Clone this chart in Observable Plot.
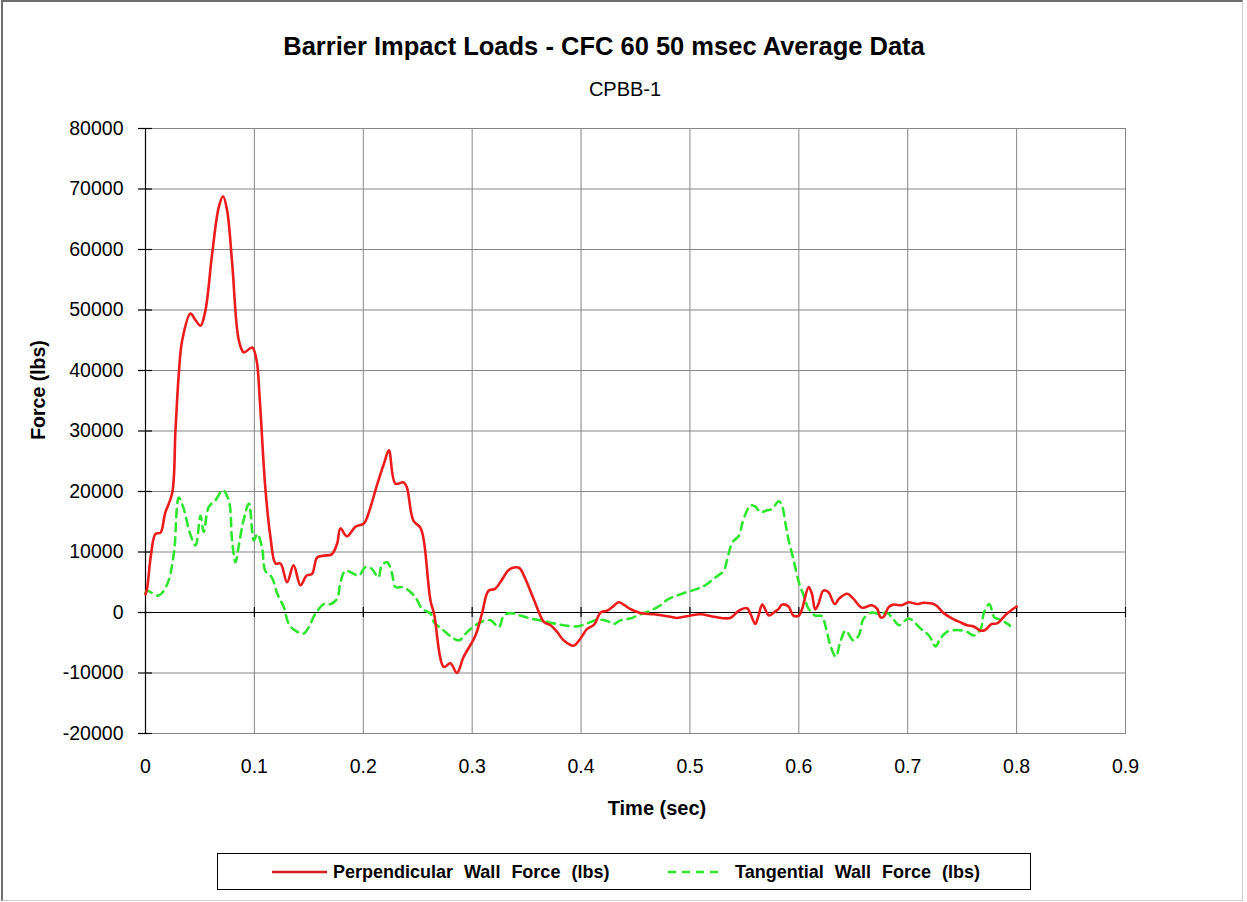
<!DOCTYPE html>
<html>
<head>
<meta charset="utf-8">
<script src="https://cdn.jsdelivr.net/npm/d3@7"></script>
<script src="https://cdn.jsdelivr.net/npm/@observablehq/plot@0.6"></script>
<style>
  body { margin: 0; background: #fff; }
  #wrap { position: relative; width: 1247px; height: 902px; background: #fff; overflow: hidden; font-family: "Liberation Sans", Arial, sans-serif; color: #000; }
  #wrap svg.plot { position: absolute; left: 0; top: 0; }
  .t { position: absolute; white-space: nowrap; }
</style>
</head>
<body>
<div id="wrap">
  <div style="position:absolute;left:1px;top:0px;width:1239px;height:898px;border-left:2px solid #6e6e6e;border-top:2px solid #6e6e6e;border-right:1px solid #d0d0d0;border-bottom:1px solid #d0d0d0;"></div>
  <div id="chart"></div>
  <div class="t" style="left:0;width:1208px;top:33px;line-height:26px;font-size:25.5px;font-weight:bold;text-align:center;">Barrier Impact Loads - CFC 60 50 msec Average Data</div>
  <div class="t" style="left:0;width:1250px;top:79px;line-height:20px;font-size:20px;text-align:center;">CPBB-1</div>
  <div class="t" style="left:-62px;width:200px;top:380px;line-height:20px;font-size:19.5px;font-weight:bold;text-align:center;transform:rotate(-90deg);">Force (lbs)</div>
  <div class="t" style="left:557px;width:200px;top:798px;line-height:20px;font-size:20px;font-weight:bold;text-align:center;">Time (sec)</div>
  <div style="position:absolute;left:217px;top:853px;width:812px;height:35px;border:1px solid #000;"></div>
  <svg style="position:absolute;left:0;top:0;" width="1247" height="902">
    <line x1="272" y1="872" x2="327" y2="872" stroke="#d42020" stroke-width="2.5"/>
    <line x1="668" y1="872" x2="722" y2="872" stroke="#2ee62e" stroke-width="2.5" stroke-dasharray="8,6"/>
  </svg>
  <div class="t" style="left:333px;top:862px;line-height:20px;font-size:18px;font-weight:bold;word-spacing:6px;">Perpendicular Wall Force (lbs)</div>
  <div class="t" style="left:735px;top:862px;line-height:20px;font-size:18px;font-weight:bold;word-spacing:6px;">Tangential Wall Force (lbs)</div>
</div>
<script>
// Tick values and labels
const xTicks = [0, 0.1, 0.2, 0.3, 0.4, 0.5, 0.6, 0.7, 0.8, 0.9];
const xTickLabels = ["0", "0.1", "0.2", "0.3", "0.4", "0.5", "0.6", "0.7", "0.8", "0.9"];
const yTicks = [-20000, -10000, 0, 10000, 20000, 30000, 40000, 50000, 60000, 70000, 80000];
const yTickLabels = ["-20000", "-10000", "0", "10000", "20000", "30000", "40000", "50000", "60000", "70000", "80000"];

// Perpendicular Wall Force (lbs)
const perpTime = [0, 0.0015, 0.005, 0.0092, 0.0138, 0.018, 0.0245, 0.0275, 0.0306, 0.0337, 0.0413, 0.046, 0.0505, 0.055, 0.0612, 0.0673, 0.0712, 0.075, 0.0796, 0.0857, 0.0903, 0.098, 0.102, 0.105, 0.110, 0.1148, 0.1194, 0.124, 0.130, 0.136, 0.1423, 0.148, 0.153, 0.1576, 0.164, 0.171, 0.176, 0.179, 0.185, 0.193, 0.2005, 0.205, 0.213, 0.219, 0.2235, 0.2295, 0.237, 0.240, 0.246, 0.2525, 0.2556, 0.2617, 0.265, 0.274, 0.280, 0.286, 0.292, 0.303, 0.309, 0.315, 0.321, 0.328, 0.334, 0.343, 0.3475, 0.357, 0.366, 0.372, 0.378, 0.384, 0.393, 0.3995, 0.4056, 0.412, 0.418, 0.424, 0.430, 0.4345, 0.445, 0.4545, 0.467, 0.482, 0.488, 0.5005, 0.5096, 0.522, 0.537, 0.545, 0.5525, 0.5555, 0.560, 0.563, 0.5665, 0.5725, 0.577, 0.5815, 0.5845, 0.5905, 0.595, 0.600, 0.603, 0.609, 0.612, 0.615, 0.618, 0.6225, 0.627, 0.633, 0.637, 0.6445, 0.650, 0.658, 0.667, 0.672, 0.675, 0.678, 0.6825, 0.687, 0.6945, 0.701, 0.7085, 0.7146, 0.725, 0.733, 0.741, 0.748, 0.7545, 0.7605, 0.767, 0.771, 0.777, 0.782, 0.791, 0.800];
const perpForce = [3000, 4000, 9500, 13000, 13200, 16400, 19700, 30000, 39500, 45000, 49400, 48300, 47400, 49900, 59300, 67000, 68800, 66400, 57700, 45000, 43000, 43800, 41700, 35000, 20700, 12400, 8100, 8100, 5000, 7800, 4500, 6100, 6400, 9100, 9400, 9600, 11400, 13900, 12600, 14200, 14700, 16500, 21300, 24600, 26800, 21300, 21500, 20700, 15200, 14000, 11900, 2000, -200, -9000, -8400, -10000, -7400, -3800, -200, 3600, 3900, 5600, 7100, 7400, 6100, 2000, -1600, -2100, -3200, -4600, -5500, -4300, -2700, -2000, 0, 300, 1100, 1700, 600, -100, -300, -700, -900, -500, -300, -700, -900, 300, 700, -200, -1900, -500, 1300, -500, 0, 600, 1300, 1000, -500, -500, 600, 4200, 3100, 500, 1400, 3600, 3400, 1400, 2300, 3100, 2300, 800, 1200, 600, -800, -700, 900, 1300, 1200, 1700, 1400, 1600, 1300, -100, -1000, -1600, -2100, -2300, -3000, -2900, -1900, -1800, -200, 1000];

// Tangential Wall Force (lbs)
const tangTime = [0, 0.0015, 0.012, 0.020, 0.026, 0.0306, 0.035, 0.041, 0.046, 0.0505, 0.0535, 0.058, 0.064, 0.0712, 0.0765, 0.0795, 0.0826, 0.0857, 0.090, 0.095, 0.0995, 0.1026, 0.107, 0.110, 0.116, 0.121, 0.127, 0.1316, 0.1377, 0.145, 0.150, 0.156, 0.164, 0.170, 0.176, 0.179, 0.1837, 0.191, 0.196, 0.202, 0.208, 0.211, 0.214, 0.217, 0.222, 0.2265, 0.2295, 0.2357, 0.242, 0.248, 0.254, 0.2617, 0.265, 0.274, 0.2816, 0.288, 0.2955, 0.303, 0.3107, 0.317, 0.3245, 0.329, 0.3352, 0.344, 0.3535, 0.3627, 0.375, 0.384, 0.3965, 0.4056, 0.4148, 0.424, 0.430, 0.436, 0.445, 0.4545, 0.4637, 0.473, 0.479, 0.488, 0.4974, 0.5066, 0.514, 0.5234, 0.531, 0.534, 0.539, 0.545, 0.548, 0.5525, 0.5555, 0.560, 0.5647, 0.571, 0.5754, 0.5815, 0.5845, 0.5877, 0.5907, 0.5953, 0.600, 0.6045, 0.609, 0.615, 0.621, 0.6255, 0.629, 0.634, 0.638, 0.643, 0.650, 0.655, 0.6595, 0.667, 0.673, 0.681, 0.6856, 0.692, 0.701, 0.712, 0.7195, 0.7255, 0.730, 0.736, 0.745, 0.7545, 0.7605, 0.767, 0.770, 0.775, 0.7795, 0.7856, 0.791, 0.794];
const tangForce = [3200, 3600, 2800, 4700, 9700, 19000, 17200, 13000, 11100, 16000, 13300, 17400, 18500, 20200, 18500, 11900, 8300, 11100, 15200, 18000, 11900, 13000, 10800, 6900, 5800, 3100, 900, -1900, -3000, -3500, -2400, -200, 1400, 1400, 2300, 5000, 6900, 6400, 6100, 7500, 7200, 6400, 5800, 7800, 8300, 6400, 4200, 4200, 3600, 2500, 600, -200, -1600, -3000, -4100, -4600, -3200, -2100, -1400, -1300, -2400, -500, -100, -500, -1000, -1300, -1800, -2100, -2300, -1800, -1200, -1400, -1900, -1300, -1000, -300, 300, 1200, 2100, 2800, 3400, 3900, 4500, 5800, 6900, 8600, 11600, 12700, 14700, 16900, 17700, 17500, 16600, 16900, 17100, 18400, 17700, 14700, 11900, 8600, 5000, 2800, 600, -500, -600, -3000, -5500, -7300, -4900, -3000, -4600, -3800, -1000, 0, -200, -100, -800, -2100, -1000, -2700, -3800, -5600, -4300, -3200, -2900, -3200, -3800, -2700, 0, 1400, -800, -1200, -1800, -2200];

const perp = perpTime.map((t, i) => ({t, f: perpForce[i]}));
const tang = tangTime.map((t, i) => ({t, f: tangForce[i]}));

const grid = "#868686";
const chart = Plot.plot({
  width: 1247,
  height: 902,
  marginLeft: 145,
  marginRight: 122,
  marginTop: 128,
  marginBottom: 169,
  x: {domain: [0, 0.9]},
  y: {domain: [-20000, 80000]},
  style: {fontFamily: "'Liberation Sans', Arial, sans-serif", fontSize: "19.5px", color: "#000", background: "transparent", overflow: "visible"},
  marks: [
    Plot.ruleX(xTicks, {x: d => d, stroke: grid, strokeWidth: 1, strokeOpacity: 1}),
    Plot.ruleY(yTicks, {y: d => d, stroke: grid, strokeWidth: 1, strokeOpacity: 1}),
    Plot.frame({stroke: grid, strokeWidth: 1}),
    Plot.ruleY([0], {stroke: "#000", strokeWidth: 1.2}),
    Plot.ruleX([0], {stroke: "#000", strokeWidth: 1.2}),
    Plot.ruleX(xTicks, {x: d => d, y1: 0, y2: 0, insetTop: -5, insetBottom: -5, stroke: "#000", strokeWidth: 1.2}),
    Plot.ruleY(yTicks, {y: d => d, x1: 0, x2: 0, insetLeft: -7, insetRight: -7, stroke: "#000", strokeWidth: 1.2}),
    Plot.axisX({ticks: xTicks, tickSize: 0, tickPadding: 26, tickFormat: d => xTickLabels[xTicks.indexOf(d)], label: null, fontSize: 19.5}),
    Plot.axisY({ticks: yTicks, tickSize: 0, tickPadding: 22, tickFormat: d => yTickLabels[yTicks.indexOf(d)], label: null, fontSize: 19.5}),
    Plot.line(tang, {x: "t", y: "f", stroke: "#2ee62e", strokeWidth: 2.6, strokeDasharray: "8,6", curve: "catmull-rom"}),
    Plot.line(perp, {x: "t", y: "f", stroke: "#ec1c1c", strokeWidth: 2.6, curve: "catmull-rom"})
  ]
});
chart.classList.add("plot");
document.getElementById("chart").appendChild(chart);
</script>
</body>
</html>
